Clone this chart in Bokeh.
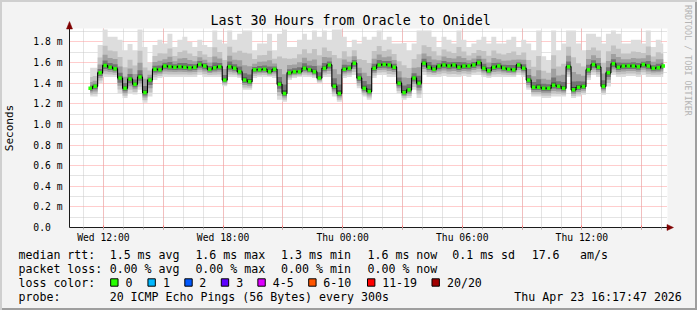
import math
import numpy as np
from bokeh.plotting import figure
from bokeh.models import Range1d, FixedTicker, CustomJSTickFormatter, Grid
from bokeh.layouts import column
from bokeh.embed import file_html
from bokeh.resources import INLINE
from bokeh.core.properties import value

FONT = "DejaVu Sans Mono"
BG = "#f3f3f3"

# ---------------- data (ms), one sample every 15 minutes from Wed 11:20 ----------------
start_hour = 11 + 20 / 60          # hours since Wed 00:00
step_hours = 0.25

median_ms = [
    1.35, 1.37, 1.50, 1.57, 1.555, 1.54, 1.45, 1.35, 1.44, 1.39,
    1.46, 1.31, 1.43, 1.535, 1.53, 1.567, 1.56, 1.555, 1.56, 1.555,
    1.55, 1.555, 1.58, 1.567, 1.535, 1.55, 1.56, 1.43, 1.56, 1.545,
    1.51, 1.43, 1.415, 1.53, 1.53, 1.535, 1.51, 1.535, 1.39, 1.30,
    1.50, 1.51, 1.51, 1.545, 1.53, 1.51, 1.45, 1.545, 1.577, 1.37,
    1.30, 1.535, 1.545, 1.593, 1.45, 1.35, 1.32, 1.545, 1.577, 1.58,
    1.577, 1.555, 1.40, 1.31, 1.335, 1.45, 1.40, 1.593, 1.555, 1.535,
    1.567, 1.577, 1.567, 1.577, 1.555, 1.567, 1.567, 1.577, 1.60, 1.545,
    1.52, 1.555, 1.567, 1.545, 1.535, 1.53, 1.577, 1.545, 1.43, 1.36,
    1.36, 1.35, 1.35, 1.38, 1.37, 1.35, 1.56, 1.335, 1.36, 1.367,
    1.53, 1.58, 1.555, 1.37, 1.50, 1.587, 1.555, 1.567, 1.567, 1.567,
    1.56, 1.58, 1.567, 1.545, 1.55, 1.567,
]

smoke_hi_ms = [
    1.55, 1.55, 1.77, 1.92, 1.85, 1.85, 1.82, 1.72, 1.78, 1.72,
    1.92, 1.75, 1.60, 1.77, 1.82, 1.785, 1.88, 1.75, 1.82, 1.85,
    1.80, 1.75, 1.82, 1.77, 1.75, 1.91, 1.82, 1.785, 1.91, 1.82,
    1.88, 1.91, 1.91, 1.72, 1.785, 1.785, 1.88, 1.72, 1.88, 1.92,
    1.75, 1.75, 1.82, 1.88, 1.82, 1.91, 1.85, 1.91, 1.82, 1.92,
    1.92, 1.85, 1.75, 1.82, 1.785, 1.85, 1.82, 1.85, 1.91, 1.82,
    1.85, 1.785, 1.785, 1.79, 1.72, 1.785, 1.91, 1.91, 1.91, 1.85,
    1.75, 1.85, 1.82, 1.785, 1.91, 1.82, 1.75, 1.785, 1.82, 1.85,
    1.785, 1.85, 1.785, 1.785, 1.82, 1.85, 1.75, 1.82, 1.785, 1.72,
    1.91, 1.66, 1.625, 1.91, 1.72, 1.785, 1.91, 1.91, 1.785, 1.72,
    1.88, 1.88, 1.85, 1.785, 1.88, 1.91, 1.88, 1.785, 1.785, 1.82,
    1.82, 1.785, 1.91, 1.75, 1.82, 1.785,
]

smoke_lo_ms = [
    1.27, 1.27, 1.40, 1.46, 1.46, 1.46, 1.30, 1.255, 1.30, 1.29,
    1.335, 1.21, 1.27, 1.43, 1.45, 1.46, 1.46, 1.46, 1.46, 1.46,
    1.46, 1.46, 1.48, 1.46, 1.46, 1.46, 1.46, 1.37, 1.46, 1.46,
    1.45, 1.335, 1.335, 1.45, 1.46, 1.46, 1.46, 1.45, 1.24, 1.22,
    1.43, 1.45, 1.46, 1.46, 1.46, 1.45, 1.40, 1.46, 1.46, 1.27,
    1.22, 1.45, 1.46, 1.48, 1.35, 1.27, 1.24, 1.45, 1.48, 1.48,
    1.46, 1.46, 1.30, 1.24, 1.255, 1.335, 1.255, 1.48, 1.46, 1.46,
    1.46, 1.47, 1.46, 1.46, 1.46, 1.47, 1.46, 1.48, 1.48, 1.46,
    1.45, 1.46, 1.46, 1.46, 1.46, 1.46, 1.48, 1.46, 1.335, 1.27,
    1.27, 1.255, 1.255, 1.27, 1.27, 1.27, 1.46, 1.255, 1.27, 1.287,
    1.43, 1.48, 1.46, 1.287, 1.367, 1.48, 1.46, 1.46, 1.47, 1.47,
    1.46, 1.48, 1.46, 1.46, 1.46, 1.46,
]

times = [start_hour + step_hours * i for i in range(len(median_ms))]

y_ticks = [0.0, 0.2, 0.4, 0.6, 0.8, 1.0, 1.2, 1.4, 1.6, 1.8]
y_tick_labels = ["0.0\u00a0\u00a0", "0.2 m", "0.4 m", "0.6 m", "0.8 m",
                 "1.0 m", "1.2 m", "1.4 m", "1.6 m", "1.8 m"]
y_minor = [0.1, 0.3, 0.5, 0.7, 0.9, 1.1, 1.3, 1.5, 1.7, 1.9]

x_ticks = [12, 18, 24, 30, 36]
x_tick_labels = ["Wed 12:00", "Wed 18:00", "Thu 00:00", "Thu 06:00", "Thu 12:00"]
x_red = [12, 15, 18, 21, 24, 27, 30, 33, 36, 39]
x_hourly = list(range(11, 41))

x_start = 10 + 17 / 60 + 47 / 3600      # Wed 10:17:47
x_end = x_start + 30                     # Thu 16:17:47
y_top = 1.93

title_text = "Last 30 Hours from Oracle to Onidel"
credit_text = "RRDTOOL / TOBI OETIKER"

# ---------------- main chart ----------------
p = figure(width=697, height=245, x_range=Range1d(x_start, x_end), y_range=Range1d(0, y_top),
           output_backend="svg", toolbar_location=None,
           min_border_left=67, min_border_right=30, min_border_top=28, min_border_bottom=17,
           background_fill_color="white", border_fill_color=None,
           outline_line_color=None)
p.grid.visible = False

p.title.text = title_text
p.title.align = "left"
p.title.offset = 141
p.title.text_font = FONT
p.title.text_font_size = "13.3px"
p.title.text_font_style = "normal"
p.title.text_color = "#000000"
p.title.standoff = 2

# grids (dotted, beneath the smoke as in rrdtool)
for dim, ticks, col in [(0, x_hourly, "#c8c8c8"), (1, y_minor, "#c8c8c8"),
                        (0, x_red, "#ff9a9a"), (1, y_ticks[1:], "#ff9a9a")]:
    g = Grid(dimension=dim, ticker=FixedTicker(ticks=ticks), grid_line_color=col,
             grid_line_dash="1 1", grid_line_width=1, level="underlay")
    p.add_layout(g)

# smoke
med = np.array(median_ms)
hi = np.array(smoke_hi_ms)
lo = np.array(smoke_lo_ms)
layers = [(1.0, 1.0, "#dddddd"), (0.75, 0.55, "#c2c2c2"), (0.5, 0.3, "#a0a0a0"),
          (0.3, 0.14, "#747474"), (0.12, 0.05, "#444444")]
for dn, up, col in layers:
    p.varea_step(x=times, y1=med - dn * (med - lo), y2=med + up * (hi - med),
                 step_mode="center", fill_color=col)

p.step(times, median_ms, mode="center", line_color="#000000", line_width=1.1)
p.scatter(times, median_ms, marker="square", size=3.5, fill_color="#26ff00", line_color=None)

# axes
yax = p.yaxis[0]
yax.ticker = FixedTicker(ticks=y_ticks, minor_ticks=[])
yax.formatter = CustomJSTickFormatter(args=dict(pos=y_ticks, lab=y_tick_labels),
                                      code="const i = pos.indexOf(tick); return i < 0 ? '' : lab[i];")
yax.major_tick_out = 0
yax.major_tick_in = 0
yax.minor_tick_out = 0
yax.major_label_standoff = 7
yax.major_label_text_font = FONT
yax.major_label_text_font_size = "9.7px"
yax.major_label_text_color = "#000000"
yax.axis_line_color = "#1a1a1a"
yax.axis_label = "Seconds"
yax.axis_label_text_font = FONT
yax.axis_label_text_font_size = "11px"
yax.axis_label_text_font_style = "normal"
yax.axis_label_text_color = "#000000"
yax.axis_label_standoff = 14

xax = p.xaxis[0]
xax.ticker = FixedTicker(ticks=x_red, minor_ticks=x_hourly)
xax.formatter = CustomJSTickFormatter(args=dict(pos=x_ticks, lab=x_tick_labels),
                                      code="const i = pos.indexOf(tick); return i < 0 ? '' : lab[i];")
xax.major_tick_out = 2
xax.major_tick_in = 2
xax.major_tick_line_color = "#ff7070"
xax.minor_tick_out = 2
xax.minor_tick_in = 0
xax.minor_tick_line_color = "#b0b0b0"
xax.major_label_standoff = 2
xax.major_label_text_font = FONT
xax.major_label_text_font_size = "9.7px"
xax.major_label_text_color = "#000000"
xax.axis_line_color = "#1a1a1a"

# axis arrows (triangles based on the frame edge, drawn unclipped at overlay level)
px_per_ms = 200 / y_top
px_per_h = 600 / 30
arrows = p.patches(xs=[[x_start - 3 / px_per_h, x_start + 3 / px_per_h, x_start],
                       [x_end - 0.5 / px_per_h, x_end - 0.5 / px_per_h, x_end + 6 / px_per_h]],
                   ys=[[y_top - 0.5 / px_per_ms, y_top - 0.5 / px_per_ms, y_top + 7 / px_per_ms],
                       [-3 / px_per_ms, 3 / px_per_ms, 0]],
                   fill_color="#7f0000", line_color="#7f0000", line_width=0.5)
arrows.level = "overlay"

# vertical credit text at the right edge (anchored just inside the frame, shifted out)
credit = p.text(x=[x_end - 0.05], y=[(228 - 60) / px_per_ms], text=[credit_text], x_offset=21,
                angle=-math.pi / 2, text_align="center", text_baseline="middle",
                text_font=value(FONT), text_font_size="8.4px", text_color="#b4b4b4")
credit.level = "overlay"

# ---------------- legend strip (data units = pixels) ----------------
q = figure(width=697, height=65, x_range=Range1d(67, 667), y_range=Range1d(65, 0),
           output_backend="svg", toolbar_location=None, x_axis_type=None, y_axis_type=None,
           min_border_left=67, min_border_right=30, min_border_top=0, min_border_bottom=0,
           background_fill_color=None, border_fill_color=None, outline_line_color=None)
q.grid.visible = False

row_y = [9, 23, 37, 51]
rtt_texts = ["median rtt:", "1.5 ms avg", "1.6 ms max", "1.3 ms min", "1.6 ms now",
             "0.1 ms sd", "17.6", "am/s"]
rtt_x = [16, 107.3, 193.3, 279.3, 366, 451, 530.7, 579.3]
loss_texts = ["packet loss:", "0.00 % avg", "0.00 % max", "0.00 % min", "0.00 % now"]
loss_x = [16, 107.3, 193.3, 279.3, 366]
color_title = "loss color:"
loss_bins = ["0", "1", "2", "3", "4-5", "6-10", "11-19", "20/20"]
loss_colors = ["#26ff00", "#00b8ff", "#0059ff", "#5e00ff", "#dd00ff", "#ff5500", "#ff0000", "#a10000"]
swatch_x = [108.3, 145.7, 182.7, 219.3, 256, 307, 366, 430.7]
bin_x = [123.3, 160.7, 197.3, 234.3, 271, 321.7, 380.7, 445.7]
probe_texts = ["probe:", "20 ICMP Echo Pings (56 Bytes) every 300s", "Thu Apr 23 16:17:47 2026"]
probe_x = [16, 107.3, 513.3]

all_x = rtt_x + loss_x + [16] + bin_x + probe_x
all_y = ([row_y[0]] * len(rtt_x) + [row_y[1]] * len(loss_x) + [row_y[2]] * (1 + len(bin_x))
         + [row_y[3]] * len(probe_x))
all_t = rtt_texts + loss_texts + [color_title] + loss_bins + probe_texts
anchor_x = [max(x, 72) for x in all_x]          # glyph anchors must lie inside the frame
offset_x = [x - a for x, a in zip(all_x, anchor_x)]
legend_text = q.text(x=anchor_x, y=all_y, text=all_t, x_offset=offset_x, text_font=value(FONT),
                     text_font_size="11.6px", text_baseline="middle", text_align="left",
                     text_color="#000000")
legend_text.level = "overlay"

swatches = q.quad(left=swatch_x, right=[s + 7.4 for s in swatch_x],
                  top=[row_y[2] - 3.7] * len(swatch_x), bottom=[row_y[2] + 3.7] * len(swatch_x),
                  fill_color=loss_colors, line_color="#000000", line_width=1)
swatches.level = "overlay"

layout = column(p, q, spacing=0,
                styles={"background-color": BG,
                        "box-shadow": "inset 2px 2px 0 0 #cfcfcf, inset -2px -2px 0 0 #9e9e9e"})
open("out.html", "w").write(file_html(layout, INLINE))
